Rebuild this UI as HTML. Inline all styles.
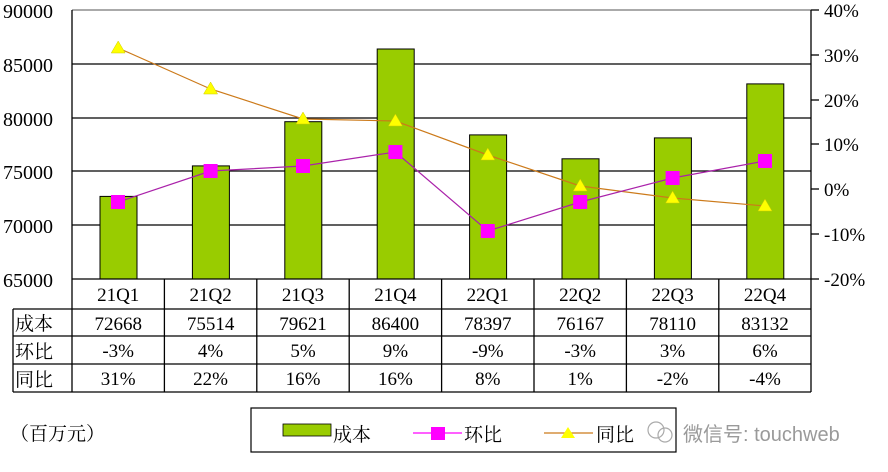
<!DOCTYPE html>
<html><head><meta charset="utf-8"><style>
html,body{margin:0;padding:0;background:#fff;}
svg{display:block;font-family:"Liberation Serif","Noto Serif CJK SC",serif;}
.c{font-family:"Liberation Serif","Noto Serif CJK SC",serif;}
</style></head><body>
<svg width="888" height="472" viewBox="0 0 888 472" xmlns="http://www.w3.org/2000/svg">
<rect width="888" height="472" fill="#fff"/>
<g stroke="#000" stroke-width="1.3">
<line x1="72" y1="64" x2="811" y2="64"/>
<line x1="72" y1="118" x2="811" y2="118"/>
<line x1="72" y1="171" x2="811" y2="171"/>
<line x1="72" y1="225" x2="811" y2="225"/>
</g>
<line x1="72" y1="10" x2="811" y2="10" stroke="#777" stroke-width="1.2"/>
<g fill="#99cc00" stroke="#000" stroke-width="1">
<rect x="100" y="196.4" width="37" height="82.6"/>
<rect x="192.4" y="165.9" width="37" height="113.1"/>
<rect x="284.8" y="121.7" width="37" height="157.3"/>
<rect x="377.2" y="49" width="37" height="230"/>
<rect x="469.6" y="134.9" width="37" height="144.1"/>
<rect x="562" y="158.8" width="37" height="120.2"/>
<rect x="654.4" y="137.9" width="37" height="141.1"/>
<rect x="746.8" y="83.9" width="37" height="195.1"/>
</g>
<g stroke="#000" stroke-width="1.3">
<line x1="72" y1="10" x2="72" y2="392"/>
<line x1="811" y1="10" x2="811" y2="392"/>
<line x1="72" y1="279" x2="811" y2="279"/>
<line x1="13" y1="309" x2="811" y2="309"/>
<line x1="13" y1="336" x2="811" y2="336"/>
<line x1="13" y1="364" x2="811" y2="364"/>
<line x1="13" y1="392" x2="811" y2="392"/>
<line x1="13" y1="309" x2="13" y2="392"/>
<line x1="164.4" y1="279" x2="164.4" y2="392"/>
<line x1="256.8" y1="279" x2="256.8" y2="392"/>
<line x1="349.2" y1="279" x2="349.2" y2="392"/>
<line x1="441.6" y1="279" x2="441.6" y2="392"/>
<line x1="534" y1="279" x2="534" y2="392"/>
<line x1="626.4" y1="279" x2="626.4" y2="392"/>
<line x1="718.8" y1="279" x2="718.8" y2="392"/>
<line x1="811" y1="10" x2="819" y2="10"/>
<line x1="811" y1="55" x2="819" y2="55"/>
<line x1="811" y1="100" x2="819" y2="100"/>
<line x1="811" y1="144" x2="819" y2="144"/>
<line x1="811" y1="189" x2="819" y2="189"/>
<line x1="811" y1="234" x2="819" y2="234"/>
<line x1="811" y1="279" x2="819" y2="279"/>
</g>
<g font-size="20" text-anchor="end" fill="#000">
<text x="53" y="18">90000</text>
<text x="53" y="72">85000</text>
<text x="53" y="126">80000</text>
<text x="53" y="179">75000</text>
<text x="53" y="233">70000</text>
<text x="53" y="287">65000</text>
</g>
<g font-size="19" fill="#000">
<text x="824" y="17">40%</text>
<text x="824" y="62">30%</text>
<text x="824" y="107">20%</text>
<text x="824" y="151">10%</text>
<text x="824" y="196">0%</text>
<text x="824" y="241">-10%</text>
<text x="824" y="286">-20%</text>
</g>
<polyline fill="none" stroke="#cc7a1a" stroke-width="1.2" points="118.2,48 210.6,89 303,119 395.4,121 487.8,155 580.2,186 672.6,198 765,206"/>
<polyline fill="none" stroke="#aa22aa" stroke-width="1.2" points="118.2,202 210.6,171 303,166 395.4,152 487.8,231 580.2,202 672.6,178 765,161"/>
<g fill="#ff00ff">
<rect x="111" y="195" width="14" height="14"/><rect x="203.6" y="164" width="14" height="14"/>
<rect x="296" y="159" width="14" height="14"/><rect x="388.4" y="145" width="14" height="14"/>
<rect x="480.8" y="224" width="14" height="14"/><rect x="573.2" y="195" width="14" height="14"/>
<rect x="665.6" y="171" width="14" height="14"/><rect x="758" y="154" width="14" height="14"/>
</g>
<g fill="#ffff00" stroke="#cccc00" stroke-width="0.5">
<polygon points="118.2,41 111.2,53 125.2,53"/><polygon points="210.6,82 203.6,94 217.6,94"/>
<polygon points="303,112 296,124 310,124"/><polygon points="395.4,114 388.4,126 402.4,126"/>
<polygon points="487.8,148 480.8,160 494.8,160"/><polygon points="580.2,179 573.2,191 587.2,191"/>
<polygon points="672.6,191 665.6,203 679.6,203"/><polygon points="765,199 758,211 772,211"/>
</g>
<g font-size="19" text-anchor="middle" fill="#000">
<text x="118.2" y="301">21Q1</text><text x="210.6" y="301">21Q2</text><text x="303" y="301">21Q3</text><text x="395.4" y="301">21Q4</text>
<text x="487.8" y="301">22Q1</text><text x="580.2" y="301">22Q2</text><text x="672.6" y="301">22Q3</text><text x="765" y="301">22Q4</text>
<text x="118.2" y="330">72668</text><text x="210.6" y="330">75514</text><text x="303" y="330">79621</text><text x="395.4" y="330">86400</text>
<text x="487.8" y="330">78397</text><text x="580.2" y="330">76167</text><text x="672.6" y="330">78110</text><text x="765" y="330">83132</text>
<text x="118.2" y="357">-3%</text><text x="210.6" y="357">4%</text><text x="303" y="357">5%</text><text x="395.4" y="357">9%</text>
<text x="487.8" y="357">-9%</text><text x="580.2" y="357">-3%</text><text x="672.6" y="357">3%</text><text x="765" y="357">6%</text>
<text x="118.2" y="385">31%</text><text x="210.6" y="385">22%</text><text x="303" y="385">16%</text><text x="395.4" y="385">16%</text>
<text x="487.8" y="385">8%</text><text x="580.2" y="385">1%</text><text x="672.6" y="385">-2%</text><text x="765" y="385">-4%</text>
</g>
<g class="c" font-size="19" fill="#000">
<text x="15" y="330">成本</text><text x="15" y="358">环比</text><text x="15" y="386">同比</text>
<text x="10" y="440">（百万元）</text>
</g>
<rect x="251" y="408" width="425" height="44" fill="#fff" stroke="#000" stroke-width="1.2"/>
<rect x="283" y="424" width="48" height="12" fill="#99cc00" stroke="#000" stroke-width="0.8"/>
<line x1="413" y1="433" x2="462" y2="433" stroke="#ff00ff" stroke-width="1.2"/>
<rect x="431" y="427" width="14" height="13" fill="#ff00ff"/>
<line x1="544" y1="433" x2="593" y2="433" stroke="#cc7a1a" stroke-width="1.2"/>
<polygon points="568,427 561,438 575,438" fill="#ffff00"/>
<g class="c" font-size="19" fill="#000">
<text x="333" y="441">成本</text><text x="464" y="441">环比</text><text x="596" y="441">同比</text>
</g>
<circle cx="656" cy="430" r="8" fill="none" stroke="#aaa" stroke-width="1.2"/>
<circle cx="665" cy="435" r="7" fill="none" stroke="#aaa" stroke-width="1.2"/>
<text x="683" y="441" font-size="20" fill="#9a9a9a" style="font-family:'Liberation Sans','Noto Sans CJK SC',sans-serif">微信号: touchweb</text>
</svg>
</body></html>
